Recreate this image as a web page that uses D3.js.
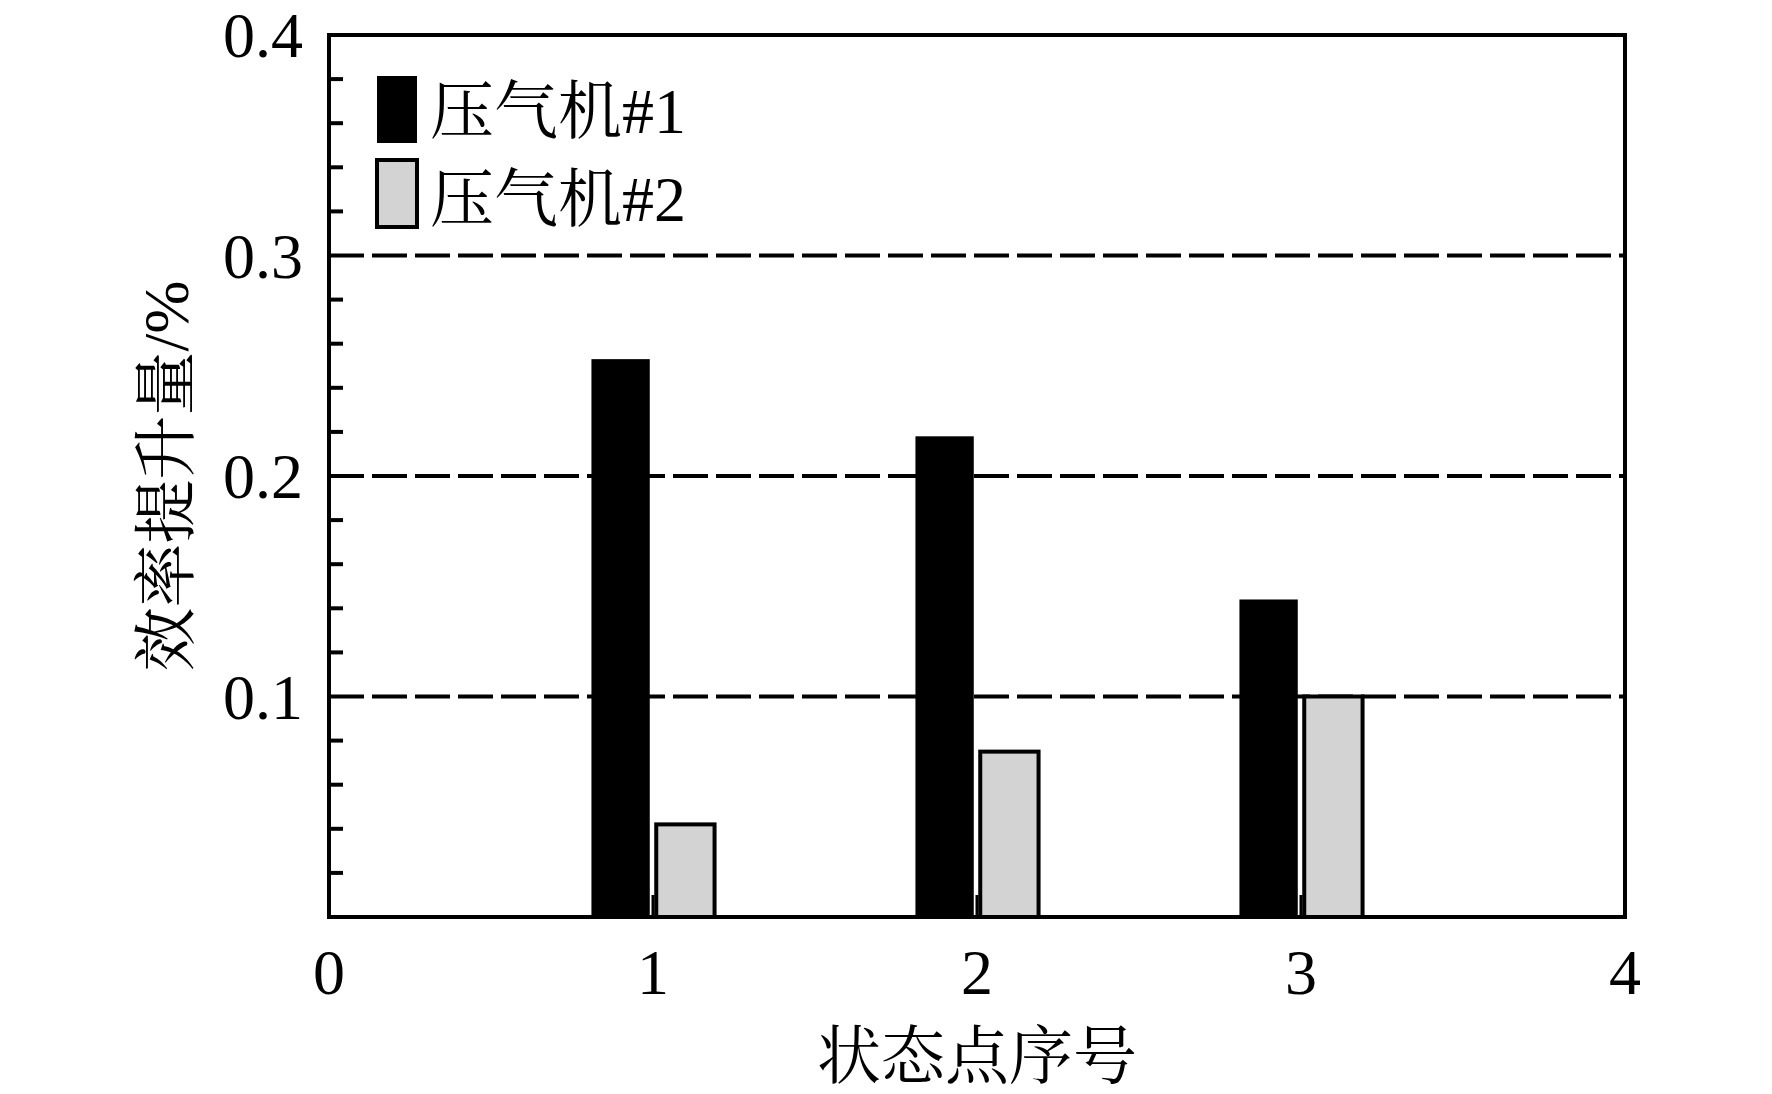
<!DOCTYPE html>
<html>
<head>
<meta charset="utf-8">
<script src="https://cdn.jsdelivr.net/npm/d3@7"></script>
<style>
  body { margin: 0; background: #fff; }
  text { font-family: "Liberation Serif", "Noto Serif CJK SC", "Noto Sans CJK SC", serif; fill: #000; }
</style>
</head>
<body>
<svg id="chart"></svg>
<script>
// data
const states = [1, 2, 3];
const seriesNames = ['压气机#1', '压气机#2'];
const comp1 = [0.253, 0.218, 0.144];
const comp2 = [0.042, 0.075, 0.100];
const xTicks = [0, 1, 2, 3, 4];
const yTicks = [0.1, 0.2, 0.3, 0.4];
const yMinor = [0.02, 0.04, 0.06, 0.08, 0.12, 0.14, 0.16, 0.18, 0.22, 0.24, 0.26, 0.28, 0.32, 0.34, 0.36, 0.38];

const width = 1772, height = 1094;
const plotL = 329, plotT = 35, plotR = 1625, plotB = 917;
const barW = 0.18;

const svg = d3.select('#chart').attr('width', width).attr('height', height);

const x = d3.scaleLinear().domain([0, 4]).range([plotL, plotR]);
const y = d3.scaleLinear().domain([0, 0.4]).range([plotB, plotT]);

// dashed grid lines at major y ticks
svg.selectAll('line.grid')
  .data(yTicks.filter(d => d < 0.4))
  .enter().append('line')
  .attr('x1', plotL).attr('x2', plotR)
  .attr('y1', d => y(d)).attr('y2', d => y(d))
  .attr('stroke', '#000').attr('stroke-width', 4)
  .attr('stroke-dasharray', '35,8');

// minor ticks on left axis (inward)
svg.selectAll('line.ymin')
  .data(yMinor)
  .enter().append('line')
  .attr('x1', plotL).attr('x2', plotL + 14)
  .attr('y1', d => y(d)).attr('y2', d => y(d))
  .attr('stroke', '#000').attr('stroke-width', 4);

// x ticks at 1..3 (inward)
svg.selectAll('line.xt')
  .data(states)
  .enter().append('line')
  .attr('x1', d => x(d)).attr('x2', d => x(d))
  .attr('y1', plotB).attr('y2', plotB - 22)
  .attr('stroke', '#000').attr('stroke-width', 3);

// bars
svg.selectAll('rect.s1')
  .data(states)
  .enter().append('rect')
  .attr('x', d => x(d - 0.01 - barW))
  .attr('width', x(barW) - x(0))
  .attr('y', (d, i) => y(comp1[i]))
  .attr('height', (d, i) => plotB - y(comp1[i]))
  .attr('fill', '#000');

svg.selectAll('rect.s2')
  .data(states)
  .enter().append('rect')
  .attr('x', d => x(d + 0.01))
  .attr('width', x(barW) - x(0))
  .attr('y', (d, i) => y(comp2[i]))
  .attr('height', (d, i) => plotB - y(comp2[i]))
  .attr('fill', '#d3d3d3')
  .attr('stroke', '#000').attr('stroke-width', 4);

// frame
svg.append('rect')
  .attr('x', plotL).attr('y', plotT)
  .attr('width', plotR - plotL).attr('height', plotB - plotT)
  .attr('fill', 'none').attr('stroke', '#000').attr('stroke-width', 4);

// tick labels
svg.selectAll('text.yl')
  .data(yTicks)
  .enter().append('text')
  .attr('x', plotL - 26).attr('y', d => y(d))
  .attr('dy', '0.35em')
  .attr('text-anchor', 'end')
  .style('font-size', '64px')
  .text(d => d.toFixed(1));

svg.selectAll('text.xl')
  .data(xTicks)
  .enter().append('text')
  .attr('x', d => x(d)).attr('y', 972)
  .attr('dy', '0.35em')
  .attr('text-anchor', 'middle')
  .style('font-size', '64px')
  .text(d => d);

// axis titles
svg.append('text')
  .attr('x', (plotL + plotR) / 2).attr('y', 1078)
  .attr('text-anchor', 'middle')
  .style('font-size', '64px')
  .text('状态点序号');

svg.append('text')
  .attr('transform', 'translate(188,' + ((plotT + plotB) / 2) + ') rotate(-90)')
  .attr('text-anchor', 'middle')
  .style('font-size', '64px')
  .text('效率提升量/%');

// legend
const legend = svg.append('g');
legend.append('rect')
  .attr('x', 377).attr('y', 76).attr('width', 40).attr('height', 67)
  .attr('fill', '#000');
legend.append('rect')
  .attr('x', 377).attr('y', 160).attr('width', 40).attr('height', 67)
  .attr('fill', '#d3d3d3').attr('stroke', '#000').attr('stroke-width', 4);
legend.selectAll('text')
  .data(seriesNames)
  .enter().append('text')
  .attr('x', 430).attr('y', (d, i) => 111 + i * 88)
  .attr('dy', '0.35em')
  .style('font-size', '64px')
  .text(d => d);
</script>
</body>
</html>
